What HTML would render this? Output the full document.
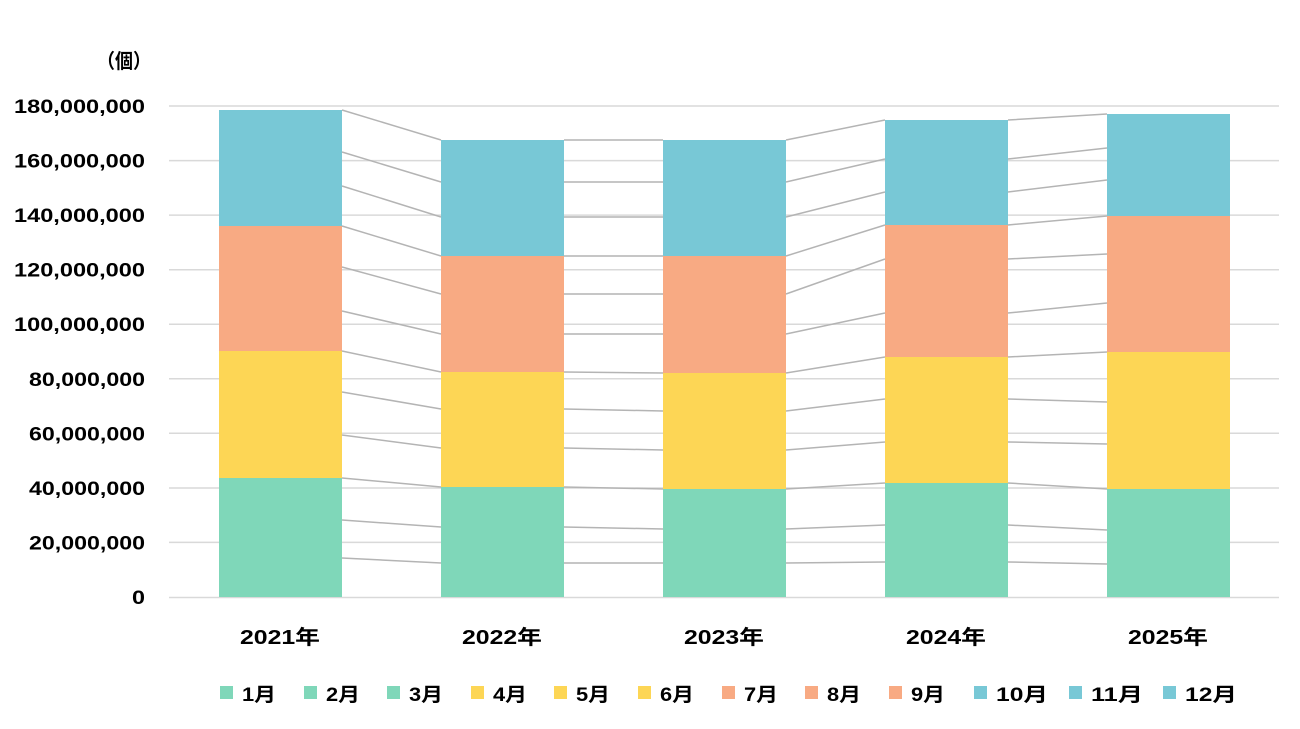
<!DOCTYPE html>
<html><head><meta charset="utf-8"><style>
html,body{margin:0;padding:0;background:#fff;}
svg{display:block;}
text{font-family:"Liberation Sans","Noto Sans CJK JP",sans-serif;font-weight:bold;fill:#000;}
</style></head><body>
<svg width="1300" height="729" viewBox="0 0 1300 729" xmlns="http://www.w3.org/2000/svg">
<g stroke="#d9d9d9" stroke-width="1.5">
<line x1="169" x2="1279" y1="106" y2="106"/>
<line x1="169" x2="1279" y1="160.6" y2="160.6"/>
<line x1="169" x2="1279" y1="215.1" y2="215.1"/>
<line x1="169" x2="1279" y1="269.7" y2="269.7"/>
<line x1="169" x2="1279" y1="324.2" y2="324.2"/>
<line x1="169" x2="1279" y1="378.8" y2="378.8"/>
<line x1="169" x2="1279" y1="433.3" y2="433.3"/>
<line x1="169" x2="1279" y1="488" y2="488"/>
<line x1="169" x2="1279" y1="542.4" y2="542.4"/>
<line x1="169" x2="1279" y1="597.5" y2="597.5"/>
</g>
<g font-size="19" lengthAdjust="spacingAndGlyphs">
<text x="14" y="113" textLength="131" lengthAdjust="spacingAndGlyphs">180,000,000</text>
<text x="14" y="167.6" textLength="131" lengthAdjust="spacingAndGlyphs">160,000,000</text>
<text x="14" y="222.1" textLength="131" lengthAdjust="spacingAndGlyphs">140,000,000</text>
<text x="14" y="276.7" textLength="131" lengthAdjust="spacingAndGlyphs">120,000,000</text>
<text x="14" y="331.2" textLength="131" lengthAdjust="spacingAndGlyphs">100,000,000</text>
<text x="29" y="385.8" textLength="116" lengthAdjust="spacingAndGlyphs">80,000,000</text>
<text x="29" y="440.3" textLength="116" lengthAdjust="spacingAndGlyphs">60,000,000</text>
<text x="29" y="495" textLength="116" lengthAdjust="spacingAndGlyphs">40,000,000</text>
<text x="29" y="549.4" textLength="116" lengthAdjust="spacingAndGlyphs">20,000,000</text>
<text x="132" y="604" textLength="13" lengthAdjust="spacingAndGlyphs">0</text>
</g>
<text x="97" y="68" font-size="20" textLength="54" lengthAdjust="spacingAndGlyphs">（個）</text>
<g>
<rect x="219" y="478" width="123" height="119" fill="#7fd7b9"/>
<rect x="219" y="351" width="123" height="127" fill="#fdd655"/>
<rect x="219" y="226" width="123" height="125" fill="#f8aa83"/>
<rect x="219" y="110" width="123" height="116" fill="#78c8d6"/>
<rect x="441" y="487" width="123" height="110" fill="#7fd7b9"/>
<rect x="441" y="372" width="123" height="115" fill="#fdd655"/>
<rect x="441" y="256" width="123" height="116" fill="#f8aa83"/>
<rect x="441" y="140" width="123" height="116" fill="#78c8d6"/>
<rect x="663" y="489" width="123" height="108" fill="#7fd7b9"/>
<rect x="663" y="373" width="123" height="116" fill="#fdd655"/>
<rect x="663" y="256" width="123" height="117" fill="#f8aa83"/>
<rect x="663" y="140" width="123" height="116" fill="#78c8d6"/>
<rect x="885" y="483" width="123" height="114" fill="#7fd7b9"/>
<rect x="885" y="357" width="123" height="126" fill="#fdd655"/>
<rect x="885" y="225" width="123" height="132" fill="#f8aa83"/>
<rect x="885" y="120" width="123" height="105" fill="#78c8d6"/>
<rect x="1107" y="489" width="123" height="108" fill="#7fd7b9"/>
<rect x="1107" y="352" width="123" height="137" fill="#fdd655"/>
<rect x="1107" y="216" width="123" height="136" fill="#f8aa83"/>
<rect x="1107" y="114" width="123" height="102" fill="#78c8d6"/>
</g>
<g stroke="#b4b4b4" stroke-width="1.5" fill="none">
<path d="M342 558L441 563M342 520L441 527M342 478L441 487M342 435L441 448M342 392L441 409M342 351L441 372M342 311L441 334M342 267L441 294M342 226L441 256M342 186L441 217M342 152L441 182M342 110L441 140"/>
<path d="M564 563L663 563M564 527L663 529M564 487L663 489M564 448L663 450M564 409L663 411M564 372L663 373M564 334L663 334M564 294L663 294M564 256L663 256M564 217L663 217M564 182L663 182M564 140L663 140"/>
<path d="M786 563L885 562M786 529L885 525M786 489L885 483M786 450L885 442M786 411L885 399M786 373L885 357M786 334L885 313M786 294L885 259M786 256L885 225M786 217L885 192M786 182L885 159M786 140L885 120"/>
<path d="M1008 562L1107 564M1008 525L1107 530M1008 483L1107 489M1008 442L1107 444M1008 399L1107 402M1008 357L1107 352M1008 313L1107 303M1008 259L1107 254M1008 225L1107 216M1008 192L1107 180M1008 159L1107 148M1008 120L1107 114"/>
</g>
<g font-size="20">
<text x="240" y="644" textLength="80" lengthAdjust="spacingAndGlyphs">2021年</text>
<text x="462" y="644" textLength="80" lengthAdjust="spacingAndGlyphs">2022年</text>
<text x="684" y="644" textLength="80" lengthAdjust="spacingAndGlyphs">2023年</text>
<text x="906" y="644" textLength="80" lengthAdjust="spacingAndGlyphs">2024年</text>
<text x="1128" y="644" textLength="80" lengthAdjust="spacingAndGlyphs">2025年</text>
</g>
<g font-size="19">
<rect x="220" y="686" width="13" height="13" fill="#7fd7b9"/><text x="242" y="701" textLength="34" lengthAdjust="spacingAndGlyphs">1月</text>
<rect x="304" y="686" width="13" height="13" fill="#7fd7b9"/><text x="326" y="701" textLength="34" lengthAdjust="spacingAndGlyphs">2月</text>
<rect x="387" y="686" width="13" height="13" fill="#7fd7b9"/><text x="409" y="701" textLength="34" lengthAdjust="spacingAndGlyphs">3月</text>
<rect x="471" y="686" width="13" height="13" fill="#fdd655"/><text x="493" y="701" textLength="34" lengthAdjust="spacingAndGlyphs">4月</text>
<rect x="554" y="686" width="13" height="13" fill="#fdd655"/><text x="576" y="701" textLength="34" lengthAdjust="spacingAndGlyphs">5月</text>
<rect x="638" y="686" width="13" height="13" fill="#fdd655"/><text x="660" y="701" textLength="34" lengthAdjust="spacingAndGlyphs">6月</text>
<rect x="722" y="686" width="13" height="13" fill="#f8aa83"/><text x="744" y="701" textLength="34" lengthAdjust="spacingAndGlyphs">7月</text>
<rect x="805" y="686" width="13" height="13" fill="#f8aa83"/><text x="827" y="701" textLength="34" lengthAdjust="spacingAndGlyphs">8月</text>
<rect x="889" y="686" width="13" height="13" fill="#f8aa83"/><text x="911" y="701" textLength="34" lengthAdjust="spacingAndGlyphs">9月</text>
<rect x="974" y="686" width="13" height="13" fill="#78c8d6"/><text x="996" y="701" textLength="52" lengthAdjust="spacingAndGlyphs">10月</text>
<rect x="1069" y="686" width="13" height="13" fill="#78c8d6"/><text x="1091" y="701" textLength="52" lengthAdjust="spacingAndGlyphs">11月</text>
<rect x="1163" y="686" width="13" height="13" fill="#78c8d6"/><text x="1185" y="701" textLength="52" lengthAdjust="spacingAndGlyphs">12月</text>
</g>
</svg>
</body></html>
